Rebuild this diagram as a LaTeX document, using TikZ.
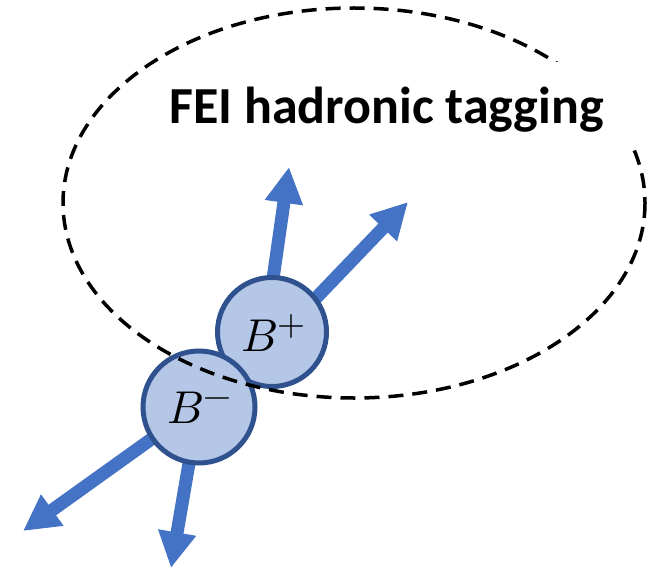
\documentclass[tikz,border=0pt]{standalone}
\usepackage{fontspec}
\usepackage{unicode-math}
\setmathfont{Latin Modern Math}
\newfontfamily\labelfont{Carlito}
\usetikzlibrary{arrows.meta}
\definecolor{arrowblue}{HTML}{4472C4}
\definecolor{mesonfill}{HTML}{B4C7E7}
\definecolor{mesonedge}{HTML}{2F528F}
\tikzset{
  track/.style={draw=arrowblue, line width=13pt,
    -{Triangle[length=36pt,width=36pt]}},
  meson/.style={circle, fill=mesonfill, draw=mesonedge, line width=5pt,
    inner sep=0pt},
  mesonlabel/.style={font=\fontsize{46}{50}\selectfont, inner sep=0pt},
  region/.style={draw=black, line width=3.5pt, dash pattern=on 15pt off 9pt},
}
% charge superscript set a little larger than the default script size
\newcommand{\chg}[1]{^{\text{\fontsize{36}{40}\selectfont$#1$}}}
\begin{document}
\begin{tikzpicture}[x=1pt, y=-1pt]
\useasboundingbox (0,0) rectangle (647,572);

% decay products of the two mesons
\coordinate (pA) at (289,167);
\coordinate (pB) at (408,202);
\coordinate (mA) at (23,531);
\coordinate (mB) at (171,568);
\coordinate (pAs) at (270,300);
\coordinate (pBs) at (295,320);
\coordinate (mAs) at (185,415);
\coordinate (mBs) at (193,440);
\draw[track] (pAs) -- (pA);
\draw[track] (pBs) -- (pB);
\draw[track] (mAs) -- (mA);
\draw[track] (mBs) -- (mB);

% the B meson pair
\node[meson, minimum size=109pt] (bplus) at (272,332) {};
\node[meson, minimum size=112pt] (bminus) at (199,407) {};
\node[mesonlabel] (bplustxt) at (274,333) {$B\chg{+}$};
\node[mesonlabel] (bminustxt) at (200,408) {$B\chg{-}$};

% tag-side region
\draw[region] (354,203) ellipse [x radius=291, y radius=195];

% label with white backing over the outline
\fill[white] (160,62) rectangle (647,149);
\node[font=\labelfont\bfseries\fontsize{52}{56}\selectfont, anchor=base, inner sep=0pt]
  (title) at (386.5,124) {FEI hadronic tagging};
\end{tikzpicture}
\end{document}
